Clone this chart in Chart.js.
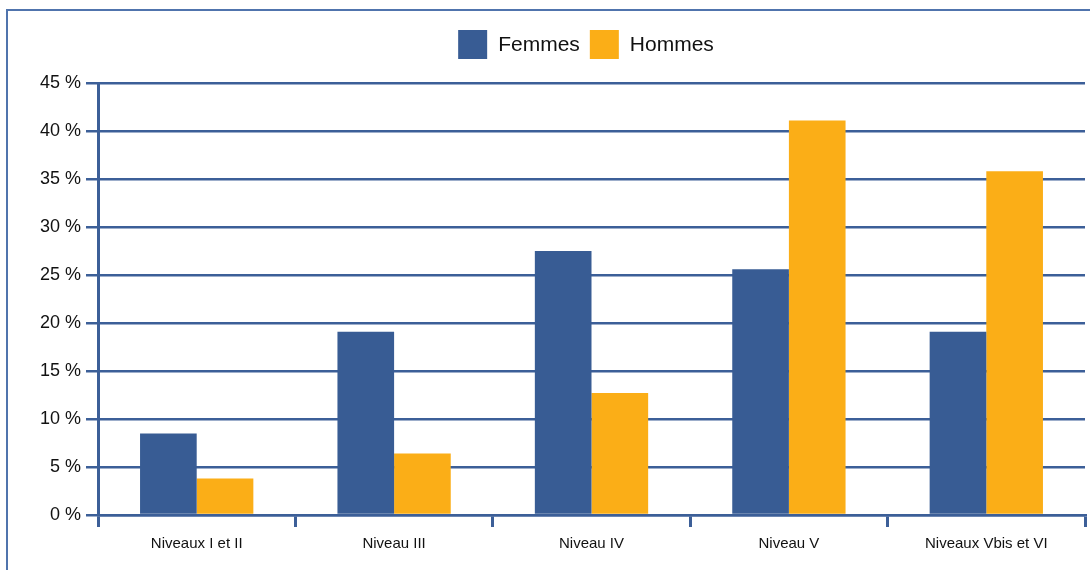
<!DOCTYPE html>
<html>
<head>
<meta charset="utf-8">
<script src="https://cdn.jsdelivr.net/npm/chart.js@4.4.1/dist/chart.umd.min.js"></script>
<style>
  html, body { margin: 0; padding: 0; background: #fff; }
  #wrap { width: 1090px; height: 570px; position: relative; }
</style>
</head>
<body>
<div id="wrap"><canvas id="chart"></canvas></div>
<script>
// values (percent)
const categories = ['Niveaux I et II', 'Niveau III', 'Niveau IV', 'Niveau V', 'Niveaux Vbis et VI'];
const femmes = [8.5, 19.1, 27.5, 25.6, 19.1];
const hommes = [3.8, 6.4, 12.7, 41.1, 35.8];
const seriesNames = ['Femmes', 'Hommes'];
const yMax = 45;
const yStep = 5;

const BLUE = '#385c94';
const ORANGE = '#fbae17';
const LINE = '#3c5f98';
const FONT = "'Liberation Sans', Arial, sans-serif";

// outer frame + simple centred legend, drawn by hand
const framePlugin = {
  id: 'frame',
  beforeDraw(chart) {
    const ctx = chart.ctx;
    ctx.save();
    ctx.fillStyle = '#fff';
    ctx.fillRect(0, 0, chart.width, chart.height);
    ctx.strokeStyle = '#5074ad';
    ctx.lineWidth = 2;
    ctx.strokeRect(7, 10, 1300, 800);
    ctx.restore();
  },
  afterDraw(chart) {
    const ctx = chart.ctx;
    ctx.save();
    ctx.font = '21px ' + FONT;
    ctx.textBaseline = 'middle';
    const box = 29, gapText = 11, gapItem = 10;
    const items = chart.data.datasets.map(ds => ({
      label: ds.label, color: ds.backgroundColor, w: ctx.measureText(ds.label).width
    }));
    let total = 0;
    items.forEach((it, i) => { total += box + gapText + it.w + (i ? gapItem : 0); });
    let x = 586 - total / 2;
    const top = 30;
    items.forEach(it => {
      ctx.fillStyle = it.color;
      ctx.fillRect(x, top, box, box);
      ctx.fillStyle = '#111';
      ctx.fillText(it.label, x + box + gapText, top + box / 2 + 1);
      x += box + gapText + it.w + gapItem;
    });
    ctx.restore();
  }
};

const ctx = document.getElementById('chart').getContext('2d');

new Chart(ctx, {
  type: 'bar',
  data: {
    labels: categories,
    datasets: [
      { label: seriesNames[0], data: femmes, backgroundColor: BLUE },
      { label: seriesNames[1], data: hommes, backgroundColor: ORANGE }
    ]
  },
  options: {
    responsive: true,
    maintainAspectRatio: false,
    animation: false,
    layout: { padding: { left: 0, right: 5, top: 83, bottom: 0 } },
    datasets: {
      bar: { categoryPercentage: 0.574, barPercentage: 1 }
    },
    scales: {
      x: {
        afterFit(scale) { scale.height = 55; },
        grid: {
          offset: true,
          drawOnChartArea: false,
          tickLength: 12,
          color: LINE,
          lineWidth: 3
        },
        border: { color: LINE, width: 2.5 },
        ticks: {
          padding: 8,
          color: '#111',
          font: { family: FONT, size: 15 }
        }
      },
      y: {
        min: 0,
        max: yMax,
        afterFit(scale) { scale.width = 98; },
        grid: {
          tickLength: 12,
          color: LINE,
          lineWidth: 2.5
        },
        border: { color: LINE, width: 3 },
        ticks: {
          stepSize: yStep,
          padding: 5,
          color: '#111',
          font: { family: FONT, size: 18 },
          callback: v => v + ' %'
        }
      }
    },
    plugins: {
      legend: { display: false },
      tooltip: { enabled: false },
      title: { display: false }
    }
  },
  plugins: [framePlugin]
});
</script>
</body>
</html>
